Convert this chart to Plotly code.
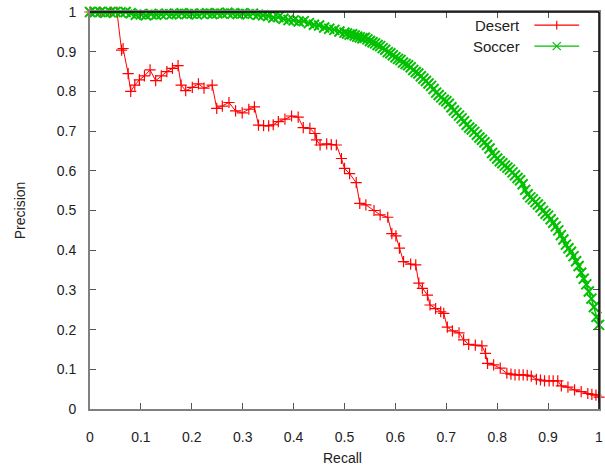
import plotly.graph_objects as go

desert_recall = [0.0, 0.02, 0.04, 0.053, 0.062, 0.065, 0.075, 0.080, 0.088, 0.097, 0.107, 0.118,
                 0.129, 0.140, 0.151, 0.162, 0.173, 0.179, 0.188, 0.201, 0.213, 0.224, 0.240,
                 0.249, 0.260, 0.273, 0.286, 0.299, 0.312, 0.323, 0.331, 0.341, 0.351, 0.360,
                 0.370, 0.383, 0.396, 0.409, 0.419, 0.432, 0.442, 0.445, 0.452, 0.465, 0.474,
                 0.484, 0.494, 0.500, 0.510, 0.523, 0.530, 0.542, 0.558, 0.570, 0.585, 0.593,
                 0.601, 0.608, 0.616, 0.630, 0.640, 0.646, 0.653, 0.663, 0.668, 0.679, 0.689,
                 0.695, 0.702, 0.712, 0.725, 0.734, 0.744, 0.757, 0.770, 0.777, 0.781, 0.793,
                 0.806, 0.819, 0.827, 0.835, 0.843, 0.851, 0.859, 0.867, 0.877, 0.885, 0.893,
                 0.902, 0.910, 0.919, 0.926, 0.939, 0.952, 0.965, 0.978, 0.986, 0.994, 1.0]
desert_precision = [1.0, 1.0, 1.0, 1.0, 0.904, 0.908, 0.845, 0.800, 0.816, 0.829, 0.839, 0.854,
                    0.827, 0.839, 0.850, 0.858, 0.865, 0.816, 0.802, 0.810, 0.819, 0.808, 0.816,
                    0.757, 0.763, 0.772, 0.751, 0.746, 0.755, 0.761, 0.715, 0.714, 0.713, 0.716,
                    0.724, 0.730, 0.738, 0.735, 0.709, 0.707, 0.694, 0.678, 0.665, 0.668, 0.666,
                    0.665, 0.631, 0.606, 0.593, 0.570, 0.518, 0.514, 0.500, 0.489, 0.483, 0.442,
                    0.436, 0.405, 0.371, 0.365, 0.363, 0.317, 0.304, 0.287, 0.262, 0.253, 0.245,
                    0.241, 0.206, 0.197, 0.192, 0.174, 0.163, 0.161, 0.159, 0.140, 0.115, 0.111,
                    0.103, 0.090, 0.088, 0.086, 0.086, 0.086, 0.085, 0.083, 0.075, 0.073, 0.071,
                    0.071, 0.071, 0.071, 0.058, 0.055, 0.048, 0.044, 0.039, 0.037, 0.035, 0.030]

soccer_recall = [0.00, 0.01, 0.02, 0.03, 0.04, 0.05, 0.06, 0.07, 0.08, 0.09,
                 0.10, 0.11, 0.12, 0.13, 0.14, 0.15, 0.16, 0.17, 0.18, 0.19,
                 0.20, 0.21, 0.22, 0.23, 0.24, 0.25, 0.26, 0.27, 0.28, 0.29,
                 0.30, 0.31, 0.32, 0.33, 0.34, 0.35, 0.36, 0.37, 0.38, 0.39,
                 0.40, 0.41, 0.42, 0.43, 0.44, 0.45, 0.46, 0.47, 0.48, 0.49,
                 0.500, 0.505, 0.510, 0.515, 0.520, 0.525, 0.530, 0.535, 0.540, 0.545,
                 0.550, 0.555, 0.560, 0.565, 0.570, 0.575, 0.580, 0.585, 0.590, 0.595,
                 0.600, 0.605, 0.610, 0.615, 0.620, 0.625, 0.630, 0.635, 0.640, 0.645,
                 0.650, 0.655, 0.660, 0.665, 0.670, 0.675, 0.680, 0.685, 0.690, 0.695,
                 0.700, 0.705, 0.710, 0.715, 0.720, 0.725, 0.730, 0.735, 0.740, 0.745,
                 0.750, 0.755, 0.760, 0.765, 0.770, 0.775, 0.780, 0.785, 0.790, 0.795,
                 0.800, 0.805, 0.810, 0.815, 0.820, 0.825, 0.830, 0.835, 0.840, 0.845,
                 0.850, 0.855, 0.860, 0.865, 0.870, 0.875, 0.880, 0.885, 0.890, 0.895,
                 0.900, 0.905, 0.910, 0.915, 0.920, 0.925, 0.930, 0.935, 0.940, 0.945,
                 0.950, 0.955, 0.960, 0.965, 0.970, 0.975, 0.980, 0.985, 0.990, 0.995,
                 1.000]
soccer_precision = [1.000, 1.000, 1.000, 0.998, 1.000, 1.000, 0.999, 1.000, 0.997, 0.993,
                    0.994, 0.992, 0.995, 0.993, 0.994, 0.996, 0.994, 0.995, 0.997, 0.995,
                    0.996, 0.994, 0.996, 0.997, 0.995, 0.997, 0.996, 0.998, 0.996, 0.995,
                    0.997, 0.994, 0.996, 0.993, 0.992, 0.990, 0.986, 0.987, 0.983, 0.980,
                    0.979, 0.976, 0.977, 0.972, 0.968, 0.966, 0.961, 0.958, 0.955, 0.951,
                    0.948, 0.946, 0.943, 0.944, 0.941, 0.938, 0.936, 0.934, 0.935, 0.931,
                    0.927, 0.924, 0.921, 0.917, 0.914, 0.909, 0.905, 0.899, 0.896, 0.891,
                    0.886, 0.882, 0.879, 0.873, 0.869, 0.866, 0.861, 0.854, 0.849, 0.845,
                    0.838, 0.832, 0.826, 0.820, 0.814, 0.806, 0.797, 0.791, 0.785, 0.779,
                    0.775, 0.769, 0.760, 0.752, 0.746, 0.739, 0.732, 0.725, 0.716, 0.709,
                    0.704, 0.698, 0.691, 0.684, 0.678, 0.672, 0.665, 0.656, 0.645, 0.638,
                    0.631, 0.624, 0.619, 0.613, 0.608, 0.603, 0.596, 0.589, 0.582, 0.576,
                    0.566, 0.552, 0.541, 0.533, 0.528, 0.521, 0.515, 0.508, 0.499, 0.492,
                    0.487, 0.478, 0.469, 0.460, 0.450, 0.438, 0.427, 0.414, 0.405, 0.396,
                    0.385, 0.372, 0.360, 0.343, 0.328, 0.314, 0.296, 0.278, 0.257, 0.232,
                    0.212]

tick_vals = [0, 0.1, 0.2, 0.3, 0.4, 0.5, 0.6, 0.7, 0.8, 0.9, 1]
tick_text = ["0", "0.1", "0.2", "0.3", "0.4", "0.5", "0.6", "0.7", "0.8", "0.9", "1"]

RED = "#ff0000"
GREEN = "#00c000"
FONT = "Liberation Sans, Arial, sans-serif"

fig = go.Figure()
fig.add_trace(go.Scatter(
    x=desert_recall, y=desert_precision, mode="lines+markers", name="Desert",
    line=dict(color=RED, width=1),
    marker=dict(symbol="cross-thin", size=8, line=dict(color=RED, width=1.2)),
    cliponaxis=False, showlegend=False))
fig.add_trace(go.Scatter(
    x=soccer_recall, y=soccer_precision, mode="lines+markers", name="Soccer",
    line=dict(color=GREEN, width=1.5),
    marker=dict(symbol="x-thin", size=10, line=dict(color=GREEN, width=2)),
    cliponaxis=False, showlegend=False))

axis_common = dict(
    range=[0, 1], tickmode="array", tickvals=tick_vals, ticktext=tick_text,
    ticks="inside", ticklen=6, tickcolor="#555555", tickwidth=1,
    showline=True, linecolor="#808080", linewidth=2, mirror="ticks",
    showgrid=False, zeroline=False, ticklabeloverflow="allow",
    tickfont=dict(family=FONT, size=14, color="#222222"),
)
fig.update_xaxes(**axis_common, ticklabelstandoff=14)
fig.update_yaxes(**axis_common, ticklabelstandoff=9)

# black top and right frame lines
fig.add_shape(type="line", xref="paper", yref="paper", x0=0, x1=1, y0=1, y1=1,
              line=dict(color="black", width=1.5), layer="above")
fig.add_shape(type="line", xref="paper", yref="paper", x0=1, x1=1, y0=0, y1=1,
              line=dict(color="black", width=1.5), layer="above")

# gnuplot-style key: text right-aligned, then sample
legend_items = [("Desert", RED, "cross-thin", 0.967), ("Soccer", GREEN, "x-thin", 0.914)]
for name, col, sym, ky in legend_items:
    fig.add_annotation(text=name, xref="paper", yref="paper", x=0.848, y=ky,
                       xanchor="right", yanchor="middle", showarrow=False,
                       font=dict(family=FONT, size=15, color="#222222"))
    fig.add_shape(type="line", xref="paper", yref="paper", x0=0.873, x1=0.961, y0=ky, y1=ky,
                  line=dict(color=col, width=1.2))
    if sym == "cross-thin":
        fig.add_shape(type="line", xref="paper", yref="paper", x0=0.917, x1=0.917,
                      y0=ky - 0.011, y1=ky + 0.011, line=dict(color=col, width=1.2))
    else:
        fig.add_shape(type="line", xref="paper", yref="paper", x0=0.909, x1=0.925,
                      y0=ky - 0.010, y1=ky + 0.010, line=dict(color=col, width=1.2))
        fig.add_shape(type="line", xref="paper", yref="paper", x0=0.909, x1=0.925,
                      y0=ky + 0.010, y1=ky - 0.010, line=dict(color=col, width=1.2))

fig.add_annotation(text="Recall", xref="paper", yref="paper", x=0.497, y=-0.123,
                   xanchor="center", yanchor="middle", showarrow=False,
                   font=dict(family=FONT, size=14, color="#222222"))
fig.add_annotation(text="Precision", xref="paper", yref="paper", x=-0.138, y=0.5,
                   xanchor="center", yanchor="middle", showarrow=False, textangle=-90,
                   font=dict(family=FONT, size=14, color="#222222"))

fig.update_layout(
    width=605, height=470,
    margin=dict(l=90, r=2, t=12, b=61),
    paper_bgcolor="white", plot_bgcolor="white",
    showlegend=False,
)

fig.write_html("out.html")
